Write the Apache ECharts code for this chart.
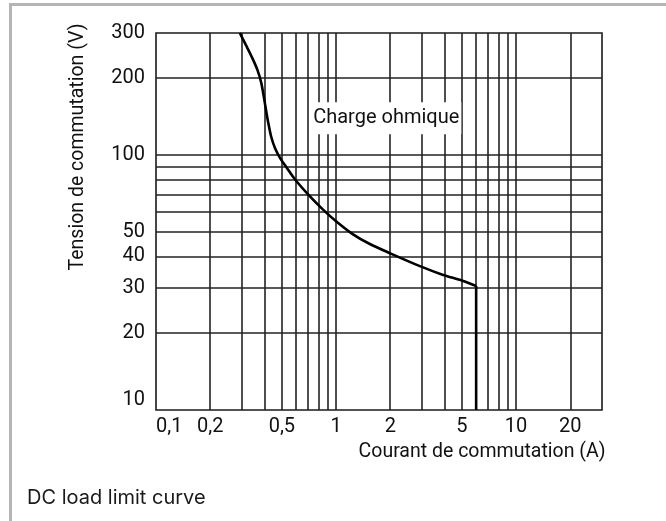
<!DOCTYPE html>
<html>
<head>
<meta charset="utf-8">
<script src="https://cdn.jsdelivr.net/npm/echarts@6/dist/echarts.min.js"></script>
<style>
  html, body { margin: 0; padding: 0; background: #fff; }
  #frame { position: absolute; left: 9px; top: 3px; width: 657px; height: 518px;
           border-top: 3px solid #b3b5ba; border-left: 3px solid #b3b5ba; box-sizing: border-box; }
  #main { position: absolute; left: 0; top: 0; width: 666px; height: 521px; }
</style>
</head>
<body>
<div id="frame"></div>
<div id="main"></div>
<script>
// courbe limite (charge ohmique)
var currentA = [0.292, 0.317, 0.344, 0.367, 0.384, 0.396, 0.407, 0.42, 0.436, 0.459, 0.492, 0.531, 0.589, 0.712, 0.844, 1.0, 1.237, 1.531, 2.0, 2.9, 3.9, 5.03, 6.0];
var voltageV = [300, 267.6, 238, 213.6, 191.8, 170.6, 151.7, 133.7, 117.9, 105.8, 96.3, 89.2, 80.4, 69.0, 61.1, 54.9, 48.9, 44.8, 41.1, 36.7, 33.9, 32.1, 30.6];
// chute verticale a 6 A
var dropA = [6.0, 6.0];
var dropV = [30.6, 10];

var xGrid = [0.2, 0.3, 0.4, 0.5, 0.6, 0.7, 0.8, 0.9, 1, 2, 3, 4, 5, 6, 7, 8, 9, 10, 20];
var yGrid = [20, 30, 40, 50, 60, 70, 80, 90, 100, 200];
var xLabels = [0.1, 0.2, 0.5, 1, 2, 5, 10, 20];
var yLabels = [10, 20, 30, 40, 50, 100, 200, 300];
var labelAt = [1.9, 139];

var myChart = echarts.init(document.getElementById('main'));

function pairs(xs, ys) {
    var out = [];
    for (var i = 0; i < xs.length; i++) out.push([xs[i], ys[i]]);
    return out;
}

var gridLines = [];
xGrid.forEach(function (v) { gridLines.push({ xAxis: v }); });
yGrid.forEach(function (v) { gridLines.push({ yAxis: v }); });

var font = 'Roboto';

var option = {
    animation: false,
    title: {
        text: 'DC load limit curve',
        left: 22,
        top: 483,
        textStyle: { fontFamily: 'Inter', fontSize: 20, fontWeight: 'normal', color: '#1a1a1a' }
    },
    grid: {
        left: 156, right: 64, top: 33, bottom: 111,
        show: true, borderColor: '#1a1a1a', borderWidth: 1.6, backgroundColor: 'transparent'
    },
    xAxis: {
        type: 'log',
        logBase: 10,
        min: 0.1,
        max: 30,
        name: 'Courant de commutation (A)',
        nameLocation: 'middle',
        nameGap: 31,
        nameTextStyle: { fontFamily: font, fontSize: 19.5, color: '#111', padding: [0, 0, 0, 206] },
        axisLine: { show: false },
        axisTick: { show: false },
        splitLine: { show: false },
        axisLabel: {
            customValues: xLabels,
            fontFamily: font, fontSize: 20, color: '#111', margin: 7,
            alignMinLabel: 'left', alignMaxLabel: 'center',
            formatter: function (v) { return String(+v.toPrecision(3)).replace('.', ','); }
        }
    },
    yAxis: {
        type: 'log',
        logBase: 10,
        min: 10,
        max: 300,
        name: 'Tension de commutation (V)',
        nameLocation: 'middle',
        nameGap: 68,
        nameTextStyle: { fontFamily: font, fontSize: 19.5, color: '#111', padding: [0, 0, 0, 149] },
        axisLine: { show: false },
        axisTick: { show: false },
        splitLine: { show: false },
        axisLabel: {
            customValues: yLabels,
            fontFamily: font, fontSize: 20, color: '#111', margin: 11,
            verticalAlignMinLabel: 'bottom', verticalAlignMaxLabel: 'middle',
            formatter: function (v) { return String(+v.toPrecision(3)); }
        }
    },
    series: [{
        type: 'line',
        name: 'grille',
        data: [],
        silent: true,
        markLine: {
            z: 2,
            silent: true,
            symbol: 'none',
            label: { show: false },
            lineStyle: { color: '#222', width: 1.6, type: 'solid' },
            data: gridLines
        }
    }, {
        type: 'line',
        name: 'Charge ohmique',
        z: 6,
        data: pairs(currentA, voltageV),
        smooth: 0.3,
        symbol: 'none',
        lineStyle: { color: '#000', width: 2.6 },
        markPoint: {
            z: 10,
            silent: true,
            symbol: 'rect',
            symbolSize: 1,
            itemStyle: { color: 'rgba(0,0,0,0)' },
            label: {
                show: true,
                position: 'inside',
                formatter: 'Charge ohmique',
                fontFamily: font, fontSize: 20, color: '#111',
                backgroundColor: '#fff',
                padding: [7, 2, 5, 2]
            },
            data: [{ coord: labelAt }]
        }
    }, {
        type: 'line',
        name: 'chute',
        z: 6,
        data: pairs(dropA, dropV),
        symbol: 'none',
        lineStyle: { color: '#000', width: 2.6 }
    }]
};

myChart.setOption(option);
</script>
</body>
</html>
